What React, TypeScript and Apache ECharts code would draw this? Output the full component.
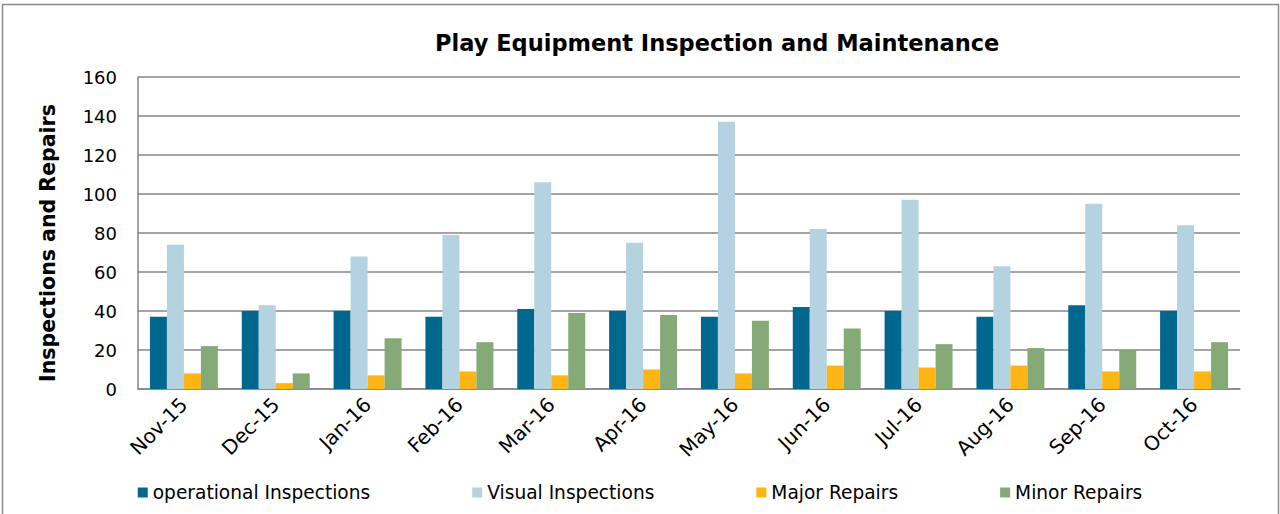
import React, { useEffect, useRef } from "react";
import * as echarts from "echarts";

const categories = ["Nov-15", "Dec-15", "Jan-16", "Feb-16", "Mar-16", "Apr-16", "May-16", "Jun-16", "Jul-16", "Aug-16", "Sep-16", "Oct-16"];
const operationalInspections = [37, 40, 40, 37, 41, 40, 37, 42, 40, 37, 43, 40];
const visualInspections = [74, 43, 68, 79, 106, 75, 137, 82, 97, 63, 95, 84];
const majorRepairs = [8, 3, 7, 9, 7, 10, 8, 12, 11, 12, 9, 9];
const minorRepairs = [22, 8, 26, 24, 39, 38, 35, 31, 23, 21, 20, 24];

const seriesNames = ["operational Inspections", "Visual Inspections", "Major Repairs", "Minor Repairs"];
const seriesColors = ["#00678f", "#b4d2df", "#fdb515", "#85aa78"];
const seriesData = [operationalInspections, visualInspections, majorRepairs, minorRepairs];

const FONT = "DejaVu Sans";

export default function App() {
  const ref = useRef<HTMLDivElement>(null);
  useEffect(() => {
    if (!ref.current) return;
    const chart = echarts.init(ref.current, null, { renderer: "svg" });
    chart.setOption({
      animation: false,
      backgroundColor: "#ffffff",
      title: {
        text: "Play Equipment Inspection and Maintenance",
        left: 430,
        top: 26,
        textStyle: { fontFamily: FONT, fontSize: 22.5, fontWeight: "bold", color: "#000" },
      },
      graphic: [
        {
          type: "rect",
          shape: { x: 2.5, y: 4.5, width: 1276, height: 600 },
          style: { fill: "none", stroke: "#8a8a8a", lineWidth: 1.5 },
          silent: true,
        },
      ],
      legend: {
        bottom: 7,
        left: "center",
        itemWidth: 10,
        itemHeight: 10,
        itemGap: 102,
        icon: "rect",
        textStyle: { fontFamily: FONT, fontSize: 18.6, color: "#000" },
        data: seriesNames,
      },
      grid: { left: 138, right: 40, top: 77, bottom: 125, containLabel: false },
      xAxis: {
        type: "category",
        data: categories,
        axisLine: { show: true, lineStyle: { color: "#868686", width: 1.5 } },
        axisTick: { show: false },
        axisLabel: { rotate: 45, interval: 0, margin: 12, fontFamily: FONT, fontSize: 20, color: "#000" },
      },
      yAxis: {
        type: "value",
        min: 0,
        max: 160,
        interval: 20,
        name: "Inspections and Repairs",
        nameLocation: "middle",
        nameGap: 80,
        nameTextStyle: { fontFamily: FONT, fontSize: 20.5, fontWeight: "bold", color: "#000", padding: [0, 20, 0, 0] },
        axisLine: { show: true, lineStyle: { color: "#868686", width: 1.5 } },
        axisTick: { show: false },
        splitLine: { show: true, lineStyle: { color: "#868686", width: 1.5 } },
        axisLabel: { margin: 21, fontFamily: FONT, fontSize: 18, color: "#000" },
      },
      series: seriesNames.map((name, i) => ({
        name,
        type: "bar",
        data: seriesData[i],
        barGap: "0%",
        barCategoryGap: "26%",
        itemStyle: { color: seriesColors[i] },
      })),
    });
    return () => chart.dispose();
  }, []);
  return (
    <div
      ref={ref}
      style={{ position: "fixed", left: 0, top: 0, width: 1280, height: 514 }}
    />
  );
}
